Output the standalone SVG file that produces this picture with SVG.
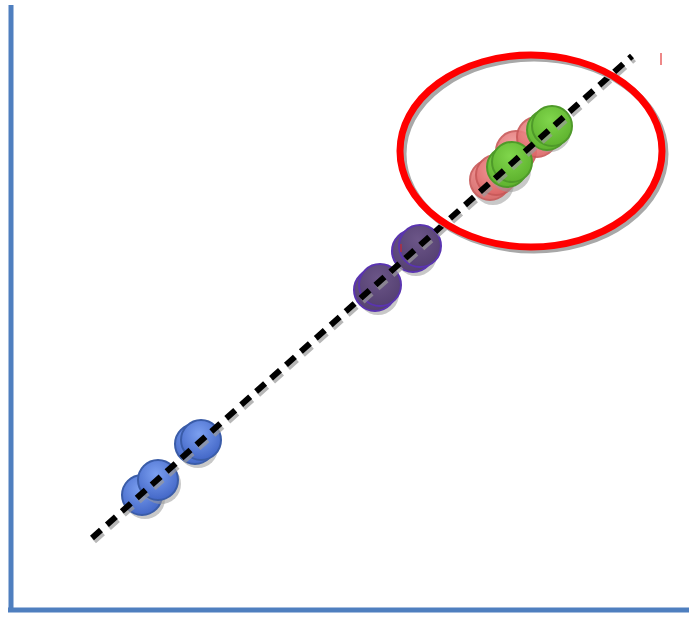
<svg xmlns="http://www.w3.org/2000/svg" width="689" height="617" viewBox="0 0 689 617">
<defs>
<radialGradient id="gb" cx="0.45" cy="0.35" r="0.7"><stop offset="0" stop-color="#7b9ff0"/><stop offset="1" stop-color="#3f63c4"/></radialGradient>
<radialGradient id="gp" cx="0.45" cy="0.35" r="0.7"><stop offset="0" stop-color="#6c5688"/><stop offset="1" stop-color="#533f70"/></radialGradient>
<radialGradient id="gr" cx="0.45" cy="0.35" r="0.7"><stop offset="0" stop-color="#f29a9a"/><stop offset="1" stop-color="#d96060"/></radialGradient>
<radialGradient id="gg" cx="0.45" cy="0.35" r="0.7"><stop offset="0" stop-color="#80d64c"/><stop offset="1" stop-color="#5cb02c"/></radialGradient>
<style>
.sh{fill:#9a9a9a;opacity:0.55}
.b{fill:url(#gb);stroke:#3a5ca8;stroke-width:2}
.p{fill:url(#gp);stroke:#5a34b0;stroke-width:2}
.r{fill:url(#gr);stroke:#c85858;stroke-width:2;opacity:0.9}
.g{fill:url(#gg);stroke:#4f9a2a;stroke-width:2}
.axis{stroke:#4f7fbf;stroke-width:5;fill:none}
</style>
</defs>
<rect width="689" height="617" fill="#ffffff"/>
<g id="axes">
<line class="axis" x1="11" y1="5" x2="11" y2="612"/>
<line class="axis" x1="8" y1="610" x2="689" y2="610"/>
</g>
<g id="blue">
<circle class="sh" cx="145" cy="499" r="20"/><circle class="b" cx="142" cy="495" r="20"/>
<circle class="sh" cx="161" cy="484" r="20"/><circle class="b" cx="158" cy="480" r="20"/>
<circle class="sh" cx="198" cy="448" r="20"/><circle class="b" cx="195" cy="444" r="20"/>
<circle class="b" cx="201" cy="440" r="20"/>
</g>
<g id="purple">
<circle class="sh" cx="378" cy="294" r="21"/><circle class="p" cx="375" cy="290" r="21"/>
<circle class="p" cx="380" cy="285" r="21"/>
<circle class="sh" cx="416" cy="255" r="21"/><circle class="p" cx="413" cy="251" r="21"/>
<circle class="p" cx="420" cy="246" r="21"/>
<line x1="401" y1="244" x2="401" y2="252" stroke="#e02020" stroke-width="1"/>
</g>
<g id="red">
<circle class="sh" cx="493" cy="184" r="21"/><circle class="r" cx="490" cy="180" r="20"/>
<circle class="r" cx="496" cy="175" r="20"/>
<circle class="r" cx="516" cy="151" r="20"/>
<circle class="r" cx="537" cy="137" r="20"/>
</g>
<g id="green">
<circle class="sh" cx="510" cy="171" r="21"/><circle class="g" cx="507" cy="167" r="20"/>
<circle class="g" cx="512" cy="162" r="20"/>
<circle class="sh" cx="550" cy="131" r="21"/><circle class="g" cx="547" cy="130" r="20"/>
<circle class="g" cx="552" cy="126" r="20"/>
</g>
<g id="connectors">
<line x1="94" y1="541" x2="634" y2="59" stroke="#9a9a9a" stroke-width="6" stroke-dasharray="12 8" opacity="0.7"/>
<line x1="92" y1="538" x2="632" y2="56" stroke="#000000" stroke-width="6" stroke-dasharray="12 8"/>
</g>
<g id="highlight">
<ellipse cx="534" cy="154" rx="131" ry="96" fill="none" stroke="#a8a8a8" stroke-width="7"/>
<ellipse cx="531" cy="151" rx="131" ry="96" fill="none" stroke="#ff0000" stroke-width="7"/>
<line x1="661" y1="53" x2="661" y2="65" stroke="#e86060" stroke-width="1.5"/>
</g>
</svg>
